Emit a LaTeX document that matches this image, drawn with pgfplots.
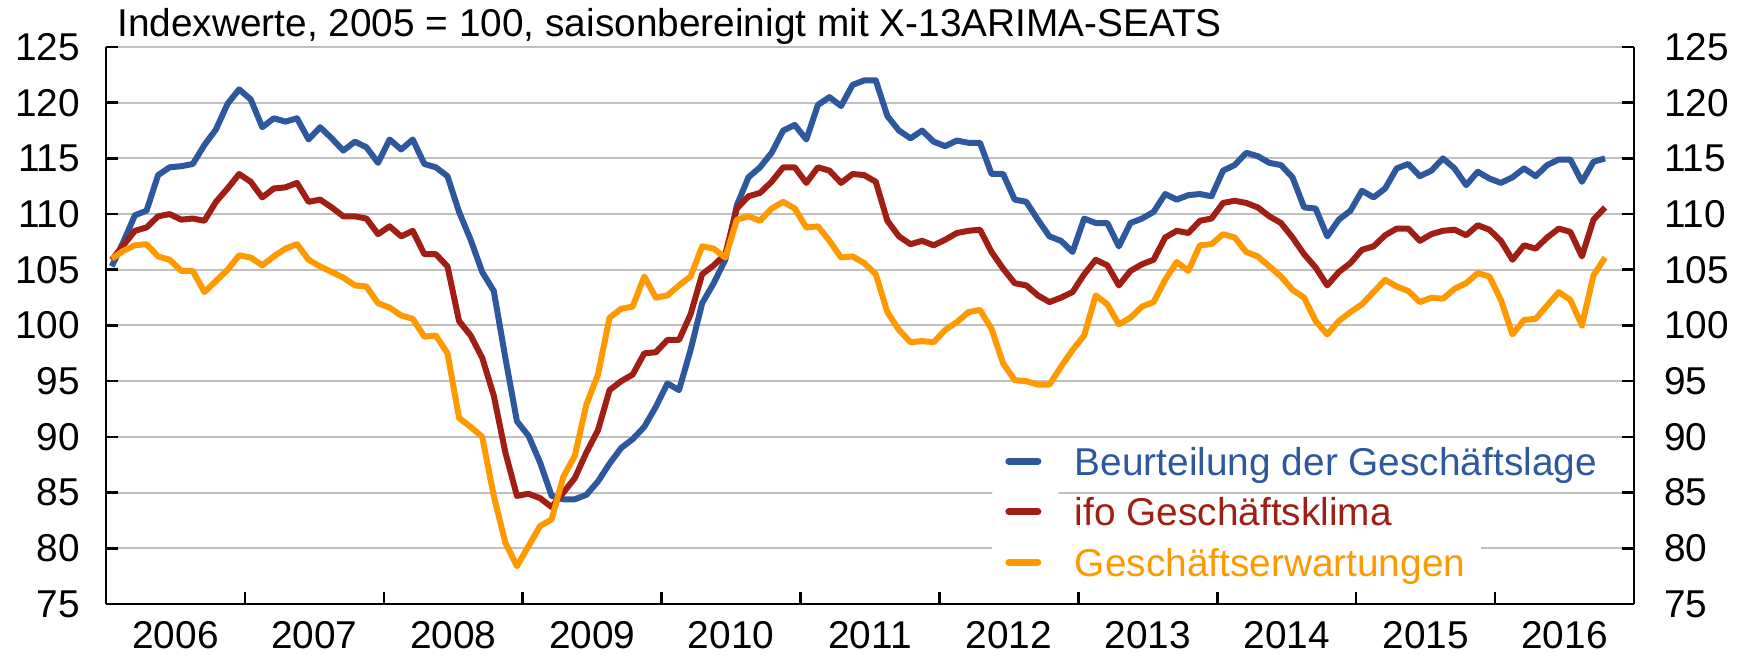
\documentclass[border=0pt]{standalone}
\usepackage{pgfplots}
\pgfplotsset{compat=1.18}
\usepackage{pgfplotstable}
\usepackage{fontspec}
\setmainfont{Liberation Sans}
\definecolor{cBlue}{RGB}{46,88,158}
\definecolor{cRed}{RGB}{160,30,20}
\definecolor{cOrange}{RGB}{255,153,0}
\definecolor{cGrid}{RGB}{192,192,192}

\pgfplotstableread{
x lage klima erw
0.5 105.3 105.9 106.0
1.5 107.5 107.2 106.7
2.5 109.9 108.5 107.2
3.5 110.3 108.8 107.3
4.5 113.5 109.8 106.2
5.5 114.2 110.0 105.9
6.5 114.3 109.5 104.9
7.5 114.5 109.6 104.9
8.5 116.2 109.4 103.0
9.5 117.6 111.1 104.0
10.5 119.9 112.3 105.0
11.5 121.2 113.6 106.3
12.5 120.3 112.9 106.1
13.5 117.8 111.5 105.4
14.5 118.6 112.3 106.2
15.5 118.3 112.4 106.9
16.5 118.6 112.8 107.3
17.5 116.7 111.1 105.9
18.5 117.8 111.3 105.3
19.5 116.8 110.6 104.8
20.5 115.7 109.8 104.3
21.5 116.5 109.8 103.6
22.5 116.0 109.6 103.5
23.5 114.6 108.2 102.0
24.5 116.7 108.9 101.6
25.5 115.8 108.0 100.9
26.5 116.7 108.5 100.6
27.5 114.5 106.4 99.0
28.5 114.2 106.4 99.1
29.5 113.4 105.3 97.5
30.5 110.2 100.4 91.7
31.5 107.7 99.1 90.9
32.5 104.8 97.1 90.0
33.5 103.1 93.7 84.7
34.5 97.1 88.6 80.5
35.5 91.4 84.7 78.4
36.5 90.1 84.9 80.2
37.5 87.7 84.5 82.0
38.5 84.7 83.7 82.6
39.5 84.4 85.0 86.4
40.5 84.4 86.3 88.3
41.5 84.8 88.6 92.9
42.5 86.0 90.6 95.6
43.5 87.6 94.2 100.7
44.5 89.0 95.0 101.5
45.5 89.8 95.6 101.7
46.5 90.9 97.5 104.4
47.5 92.7 97.6 102.5
48.5 94.8 98.7 102.7
49.5 94.2 98.7 103.6
50.5 97.8 101.0 104.4
51.5 102.0 104.6 107.1
52.5 103.8 105.4 106.9
53.5 105.9 106.4 106.1
54.5 110.8 110.5 109.5
55.5 113.3 111.6 109.8
56.5 114.2 111.9 109.4
57.5 115.5 112.9 110.5
58.5 117.5 114.2 111.1
59.5 118.0 114.2 110.5
60.5 116.7 112.8 108.8
61.5 119.8 114.2 108.9
62.5 120.5 113.9 107.6
63.5 119.7 112.8 106.1
64.5 121.6 113.6 106.2
65.5 122.0 113.5 105.6
66.5 122.0 112.9 104.6
67.5 118.8 109.4 101.2
68.5 117.5 108.0 99.6
69.5 116.8 107.3 98.5
70.5 117.5 107.6 98.6
71.5 116.5 107.2 98.5
72.5 116.1 107.7 99.6
73.5 116.6 108.3 100.3
74.5 116.4 108.5 101.2
75.5 116.4 108.6 101.4
76.5 113.6 106.6 99.7
77.5 113.6 105.1 96.6
78.5 111.3 103.8 95.1
79.5 111.1 103.6 95.0
80.5 109.5 102.7 94.7
81.5 108.0 102.1 94.7
82.5 107.6 102.5 96.3
83.5 106.6 103.0 97.8
84.5 109.6 104.6 99.1
85.5 109.2 105.9 102.7
86.5 109.2 105.4 101.9
87.5 107.1 103.6 100.1
88.5 109.2 104.9 100.7
89.5 109.6 105.5 101.7
90.5 110.2 105.9 102.1
91.5 111.8 107.9 104.1
92.5 111.3 108.5 105.7
93.5 111.7 108.3 104.9
94.5 111.8 109.4 107.2
95.5 111.6 109.6 107.3
96.5 113.9 111.0 108.2
97.5 114.4 111.2 107.9
98.5 115.5 111.0 106.6
99.5 115.2 110.6 106.2
100.5 114.6 109.8 105.3
101.5 114.4 109.2 104.4
102.5 113.3 107.9 103.2
103.5 110.6 106.4 102.5
104.5 110.5 105.2 100.4
105.5 108.0 103.6 99.2
106.5 109.5 104.8 100.4
107.5 110.3 105.6 101.2
108.5 112.1 106.8 101.9
109.5 111.5 107.1 103.0
110.5 112.3 108.1 104.1
111.5 114.1 108.7 103.5
112.5 114.5 108.7 103.1
113.5 113.4 107.6 102.1
114.5 113.9 108.2 102.5
115.5 115.0 108.5 102.4
116.5 114.1 108.6 103.3
117.5 112.6 108.1 103.8
118.5 113.8 109.0 104.7
119.5 113.2 108.6 104.4
120.5 112.8 107.6 102.3
121.5 113.3 105.9 99.2
122.5 114.1 107.2 100.5
123.5 113.4 106.9 100.6
124.5 114.4 107.9 101.8
125.5 114.9 108.7 103.0
126.5 114.9 108.4 102.3
127.5 112.9 106.2 100.0
128.5 114.7 109.5 104.5
129.5 115.0 110.6 106.1
}\ifodata

\begin{document}
\begin{tikzpicture}[font=\fontsize{19.4}{23}\selectfont]
\useasboundingbox (-53pt,-26.5pt) rectangle (820pt,302pt);
\begin{axis}[
  at={(0,0)}, anchor=south west,
  scale only axis, width=764pt, height=278.5pt,
  xmin=0, xmax=132, ymin=75, ymax=125,
  axis x line*=bottom, axis y line*=left,
  axis line style={-, line width=1.3pt, black},
  tick align=inside,
  major tick length=6pt,
  tick style={black, line width=1.3pt},
  ytick={75,80,...,125},
  ymajorgrids, grid style={cGrid, line width=1pt},
  xtick={12,24,...,120},
  xticklabels={},
  extra x ticks={6,18,30,42,54,66,78,90,102,114,126},
  extra x tick labels={2006,2007,2008,2009,2010,2011,2012,2013,2014,2015,2016},
  extra x tick style={major tick length=0pt, grid=none},
  xticklabel style={yshift=-5pt},
  yticklabel style={xshift=-9.5pt},
  /pgf/number format/assume math mode=true,
  legend cell align=left,
  legend style={at={(0.5795,0.2947)}, anchor=north west, draw=none, fill=none,
    inner sep=0pt, row sep=0pt, column sep=0pt,
    nodes={inner xsep=8pt, inner ysep=1.9pt, text height=14pt, text depth=4.5pt, fill=white}},
  legend image code/.code={
    \fill[white] (-4pt,-11.15pt) rectangle (26.5pt,11.15pt);
    \draw[#1, line width=3.5pt, line cap=round] (3pt,2.25pt) -- (17.5pt,2.25pt);},
]
\addplot[cBlue, line width=3pt, line join=round] table[x=x, y=lage] {\ifodata};
\addlegendentry{\textcolor{cBlue}{Beurteilung der Geschäftslage}}
\addplot[cRed, line width=3pt, line join=round] table[x=x, y=klima] {\ifodata};
\addlegendentry{\textcolor{cRed}{ifo Geschäftsklima}}
\addplot[cOrange, line width=3pt, line join=round] table[x=x, y=erw] {\ifodata};
\addlegendentry{\textcolor{cOrange}{Geschäftserwartungen}}
\end{axis}
\begin{axis}[
  at={(0,0)}, anchor=south west,
  scale only axis, width=764pt, height=278.5pt,
  xmin=0, xmax=132, ymin=75, ymax=125,
  hide x axis, axis y line*=right,
  axis line style={-, line width=1.3pt, black},
  tick align=inside,
  major tick length=6pt,
  tick style={black, line width=1.3pt},
  ytick={75,80,...,125},
  yticklabel style={anchor=west, xshift=11.5pt},
  /pgf/number format/assume math mode=true,
]
\addplot[draw=none] coordinates {(0,100)};
\end{axis}
\node[anchor=base west, inner sep=0pt] at (5.5pt,283.5pt) {Indexwerte, 2005 = 100, saisonbereinigt mit X-13ARIMA-SEATS};
\end{tikzpicture}
\end{document}
